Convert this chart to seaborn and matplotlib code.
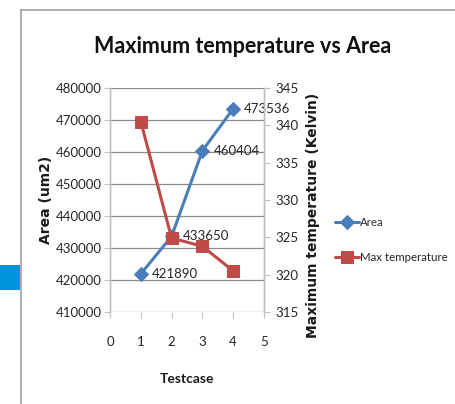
import matplotlib
matplotlib.use("Agg")
import matplotlib.pyplot as plt
import matplotlib.patches as mpatches
import seaborn as sns
import pandas as pd

testcase = [1, 2, 3, 4]
area = [421890, 433650, 460404, 473536]
max_temp = [340.5, 324.9, 323.8, 320.5]
area_ticks = [410000, 420000, 430000, 440000, 450000, 460000, 470000, 480000]
temp_ticks = [315, 320, 325, 330, 335, 340, 345]
x_ticks = [0, 1, 2, 3, 4, 5]

sns.set_style("white")
plt.rcParams['font.family'] = ['Lato', 'DejaVu Sans']

df = pd.DataFrame({"Testcase": testcase, "Area": area, "Temp": max_temp})

fig = plt.figure(figsize=(4.56, 4.04), dpi=100)
ax = fig.add_axes([110/456, 1-312/404, 154/456, 224/404])
ax2 = ax.twinx()

blue = "#4A7EBB"
red = "#BE4B48"
tc = "#262626"

sns.lineplot(data=df, x="Testcase", y="Area", ax=ax, color=blue, marker="D",
             markersize=7, markeredgecolor=blue, linewidth=2.2, label="Area", legend=False)
sns.lineplot(data=df, x="Testcase", y="Temp", ax=ax2, color=red, marker="s",
             markersize=8.5, markeredgecolor=red, linewidth=2.2, label="Max temperature", legend=False)

ax.set_xlim(0, 5)
ax.set_ylim(410000, 480000)
ax2.set_ylim(315, 345)
ax.set_xticks(x_ticks)
ax.set_yticks(area_ticks)
ax2.set_yticks(temp_ticks)
fs = 9.5
ax.set_xticklabels([str(t) for t in x_ticks], fontsize=fs, color=tc)
ax.set_yticklabels([str(t) for t in area_ticks], fontsize=fs, color=tc)
ax2.set_yticklabels([str(t) for t in temp_ticks], fontsize=fs, color=tc)

ax.grid(axis="y", color="#8c8c8c", linewidth=0.9)
ax.grid(axis="x", visible=False)
for a in (ax, ax2):
    for s in a.spines.values():
        s.set_color("#bfbfbf")
        s.set_linewidth(1.0)
    a.spines["top"].set_visible(False)
ax.spines["bottom"].set_visible(False)
ax2.spines["bottom"].set_visible(False)

ax.tick_params(axis="x", length=4, color="#bfbfbf", pad=13, direction="out", bottom=True)
ax.tick_params(axis="y", length=4, color="#bfbfbf", pad=2, left=True)
ax2.tick_params(axis="y", length=4, color="#bfbfbf", pad=4, right=True)

ax.set_xlabel("Testcase", fontsize=10, fontweight="bold", labelpad=18, color="#1a1a1a")
ax.set_ylabel("Area (um2)", fontsize=10, fontweight="bold", family=["DejaVu Sans"], color="#1a1a1a")
ax.yaxis.set_label_coords(-57/154, 0.5)
ax2.set_ylabel("Maximum temperature (Kelvin)", fontsize=10, fontweight="bold",
               family=["DejaVu Sans"], color="#1a1a1a")
ax2.yaxis.set_label_coords(1 + 42/154, 0.43)

for x, y in zip(testcase, area):
    ax.annotate(str(y), (x, y), xytext=(8, 0), textcoords="offset points",
                va="center", ha="left", fontsize=fs, color=tc)

fig.suptitle("Maximum temperature vs Area", x=243/456, y=1-36/404, fontsize=15.5,
             fontweight="bold", va="top", color="#111111")

h1, l1 = ax.get_legend_handles_labels()
h2, l2 = ax2.get_legend_handles_labels()
leg = fig.legend(h1 + h2, l1 + l2, loc="center left", bbox_to_anchor=(335/456, 1-240/404),
                 frameon=False, fontsize=8.3, handlelength=2.1, handletextpad=0.1,
                 labelspacing=2.1, borderaxespad=0, borderpad=0)
for t in leg.get_texts():
    t.set_color(tc)

# frame and side block of the original slide
fig.add_artist(plt.Line2D([21/456, 1], [1-10/404, 1-10/404], transform=fig.transFigure,
                          color="#a0a0a0", linewidth=1.2))
fig.add_artist(plt.Line2D([21/456, 21/456], [0, 1-10/404], transform=fig.transFigure,
                          color="#a0a0a0", linewidth=1.2))
fig.add_artist(mpatches.Rectangle((0, 1-290/404), 20/456, 25/404, transform=fig.transFigure,
                                  color="#0095d9", linewidth=0))

fig.savefig("out.png", dpi=100)
